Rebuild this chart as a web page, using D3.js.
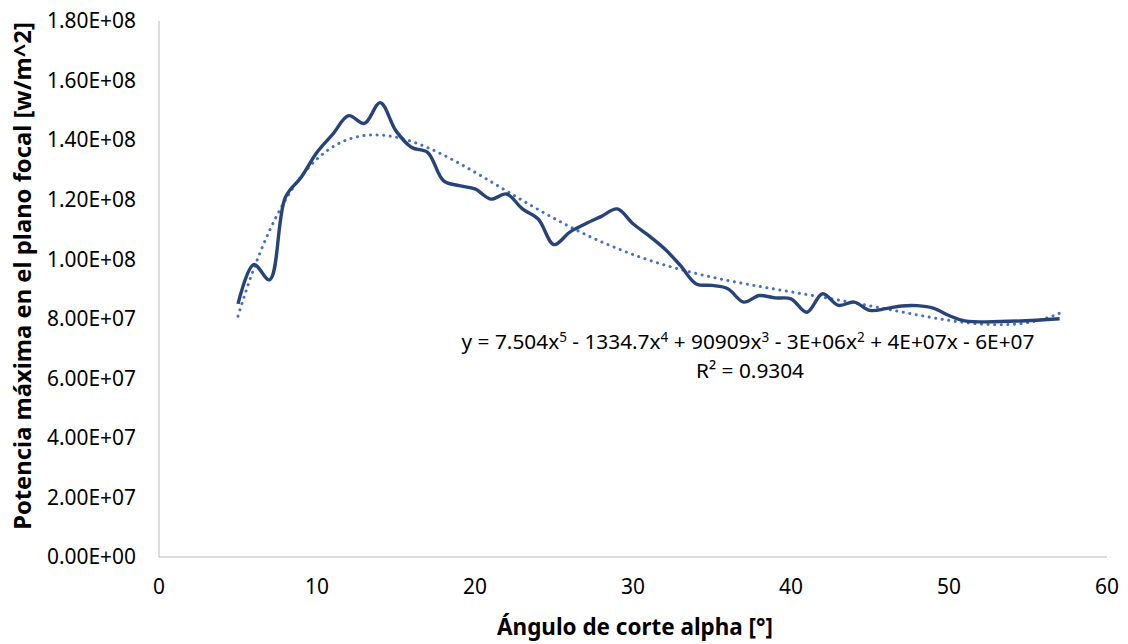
<!DOCTYPE html>
<html>
<head>
<meta charset="utf-8">
<script src="https://cdn.jsdelivr.net/npm/d3@7"></script>
<style>
  html, body { margin: 0; padding: 0; background: #fff; }
  svg text { font-family: "Noto Sans", "Open Sans", sans-serif; fill: #000; }
</style>
</head>
<body>
<svg id="chart" width="1128" height="644"></svg>
<script>
'use strict';

// angulo de corte (grados)
var angles = [5, 6, 7, 8, 9, 10, 11, 12, 13, 14, 15, 16, 17, 18, 19, 20, 21, 22, 23, 24,
  25, 26, 27, 28, 29, 30, 31, 32, 33, 34, 35, 36, 37, 38, 39, 40, 41, 42, 43, 44,
  45, 46, 47, 48, 49, 50, 51, 57];

// potencia maxima [w/m^2]
var power = [8.50e7, 9.82e7, 9.31e7, 1.208e8, 1.275e8, 1.359e8, 1.420e8, 1.482e8, 1.456e8, 1.526e8,
  1.431e8, 1.375e8, 1.359e8, 1.264e8, 1.247e8, 1.236e8, 1.202e8, 1.219e8, 1.169e8, 1.135e8,
  1.049e8, 1.091e8, 1.119e8, 1.144e8, 1.169e8, 1.119e8, 1.079e8, 1.035e8, 9.79e7, 9.17e7,
  9.12e7, 9.01e7, 8.56e7, 8.78e7, 8.70e7, 8.67e7, 8.22e7, 8.84e7, 8.45e7, 8.56e7,
  8.28e7, 8.34e7, 8.43e7, 8.44e7, 8.36e7, 8.11e7, 7.93e7, 8.00e7];

var xTicks = [0, 10, 20, 30, 40, 50, 60];
var yTicks = [0, 2e7, 4e7, 6e7, 8e7, 1e8, 1.2e8, 1.4e8, 1.6e8, 1.8e8];

var equationText = 'y = 7.504x<5> - 1334.7x<4> + 90909x<3> - 3E+06x<2> + 4E+07x - 6E+07';
var r2Label = 'R² = 0.9304';

var svg = d3.select('#chart');
var plot = {left: 159, right: 1107, top: 21, bottom: 557};

var x = d3.scaleLinear().domain([0, 60]).range([plot.left, plot.right]);
var y = d3.scaleLinear().domain([0, 1.8e8]).range([plot.bottom, plot.top]);

// ajusta el tamano de fuente para que el texto ocupe el ancho dado
function fitWidth(sel, target) {
  var node = sel.node();
  var size = parseFloat(sel.style('font-size'));
  var w = node.getComputedTextLength();
  sel.style('font-size', (size * target / w) + 'px');
  return size * target / w;
}

// ajuste polinomico de grado 5 (minimos cuadrados, x normalizado)
function polyFit(xs, ys, deg) {
  var mx = d3.mean(xs), sx = d3.deviation(xs);
  var n = deg + 1, A = [], i, j, k;
  for (i = 0; i < n; i++) { A.push(new Array(n + 1).fill(0)); }
  xs.forEach(function(xv, idx) {
    var t = (xv - mx) / sx, p = [];
    for (i = 0; i < n; i++) { p.push(Math.pow(t, i)); }
    for (i = 0; i < n; i++) {
      for (j = 0; j < n; j++) { A[i][j] += p[i] * p[j]; }
      A[i][n] += p[i] * ys[idx];
    }
  });
  for (i = 0; i < n; i++) {
    var piv = i;
    for (k = i + 1; k < n; k++) { if (Math.abs(A[k][i]) > Math.abs(A[piv][i])) { piv = k; } }
    var tmp = A[i]; A[i] = A[piv]; A[piv] = tmp;
    for (k = i + 1; k < n; k++) {
      var f = A[k][i] / A[i][i];
      for (j = i; j <= n; j++) { A[k][j] -= f * A[i][j]; }
    }
  }
  var c = new Array(n).fill(0);
  for (i = n - 1; i >= 0; i--) {
    var s = A[i][n];
    for (j = i + 1; j < n; j++) { s -= A[i][j] * c[j]; }
    c[i] = s / A[i][i];
  }
  return function(xv) {
    var t = (xv - mx) / sx, r = 0;
    for (var q = n - 1; q >= 0; q--) { r = r * t + c[q]; }
    return r;
  };
}

var trend = polyFit(angles, power, 5);
var trendX = d3.range(angles[0], angles[angles.length - 1] + 0.001, 0.25);

// ejes
svg.append('line')
  .attr('x1', plot.left).attr('x2', plot.left)
  .attr('y1', plot.top).attr('y2', plot.bottom)
  .attr('stroke', '#d0d0d0').attr('stroke-width', 1.5);
svg.append('line')
  .attr('x1', plot.left).attr('x2', plot.right)
  .attr('y1', plot.bottom).attr('y2', plot.bottom)
  .attr('stroke', '#d0d0d0').attr('stroke-width', 1.5);

var fmtE = function(d) {
  return d3.format('.2e')(d).replace(/e([+-])(\d)$/, 'e$10$2').toUpperCase();
};

// tamano de las etiquetas de los ejes a partir de "1.80E+08" (~89px)
var probe = svg.append('text').style('font-size', '18px').text(fmtE(1.8e8));
var tickSize = fitWidth(probe, 89);
probe.remove();

svg.append('g').selectAll('text')
  .data(yTicks)
  .enter().append('text')
  .attr('x', 136)
  .attr('y', function(d) { return y(d); })
  .attr('dy', '0.35em')
  .attr('text-anchor', 'end')
  .style('font-size', tickSize + 'px')
  .text(fmtE);

svg.append('g').selectAll('text')
  .data(xTicks)
  .enter().append('text')
  .attr('x', function(d) { return x(d); })
  .attr('y', 587)
  .attr('dy', '0.35em')
  .attr('text-anchor', 'middle')
  .style('font-size', tickSize + 'px')
  .text(function(d) { return d; });

// titulos
var xTitle = svg.append('text')
  .attr('x', 635).attr('y', 627)
  .attr('dy', '0.35em')
  .attr('text-anchor', 'middle')
  .style('font-size', '20px').style('font-weight', 'bold')
  .text('Ángulo de corte alpha [°]');
fitWidth(xTitle, 276);

var yTitle = svg.append('text')
  .attr('transform', 'translate(23,276) rotate(-90)')
  .attr('dy', '0.35em')
  .attr('text-anchor', 'middle')
  .style('font-size', '20px').style('font-weight', 'bold')
  .text('Potencia máxima en el plano focal [w/m^2]');
fitWidth(yTitle, 508);

// linea de tendencia
svg.append('path')
  .datum(trendX)
  .attr('fill', 'none')
  .attr('stroke', '#4472c4')
  .attr('stroke-width', 3)
  .attr('stroke-linecap', 'round')
  .attr('stroke-dasharray', '0.1 6.5')
  .attr('d', d3.line()
    .x(function(d) { return x(d); })
    .y(function(d) { return y(trend(d)); }));

// serie de datos
svg.append('path')
  .datum(angles)
  .attr('fill', 'none')
  .attr('stroke', '#264478')
  .attr('stroke-width', 3.4)
  .attr('stroke-linejoin', 'round')
  .attr('d', d3.line()
    .curve(d3.curveCatmullRom.alpha(0.5))
    .x(function(d) { return x(d); })
    .y(function(d, i) { return y(power[i]); }));

// ecuacion
var eq = svg.append('text')
  .attr('x', 748).attr('y', 342)
  .attr('dy', '0.35em')
  .attr('text-anchor', 'middle')
  .style('font-size', '19px');
var raised = false;
equationText.split(/(<\d>)/).forEach(function(part) {
  if (!part) { return; }
  var m = part.match(/^<(\d)>$/);
  if (m) {
    eq.append('tspan').attr('dy', -7).style('font-size', '0.65em').text(m[1]);
    raised = true;
  } else {
    eq.append('tspan').attr('dy', raised ? 7 : null).text(part);
    raised = false;
  }
});
fitWidth(eq, 573);

svg.append('text')
  .attr('x', 750).attr('y', 371)
  .attr('dy', '0.35em')
  .attr('text-anchor', 'middle')
  .style('font-size', eq.style('font-size'))
  .text(r2Label);
</script>
</body>
</html>
